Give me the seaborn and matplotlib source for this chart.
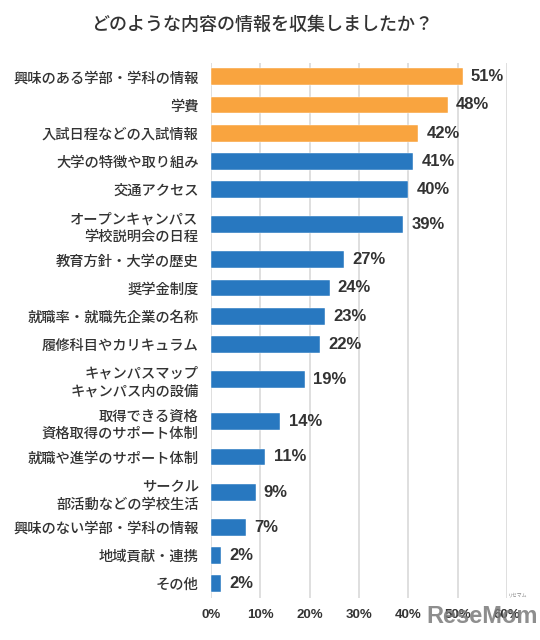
import numpy as np
import pandas as pd
import seaborn as sns
import matplotlib.pyplot as plt

# data
labels = ["興味のある学部・学科の情報", "学費", "入試日程などの入試情報",
          "大学の特徴や取り組み", "交通アクセス",
          "オープンキャンパス\n学校説明会の日程", "教育方針・大学の歴史",
          "奨学金制度", "就職率・就職先企業の名称", "履修科目やカリキュラム",
          "キャンパスマップ\nキャンパス内の設備", "取得できる資格\n資格取得のサポート体制",
          "就職や進学のサポート体制", "サークル\n部活動などの学校生活",
          "興味のない学部・学科の情報", "地域貢献・連携", "その他"]
values = [51, 48, 42, 41, 40, 39, 27, 24, 23, 22, 19, 14, 11, 9, 7, 2, 2]
groups = ["top"] * 3 + ["other"] * 14
xticks = [0, 10, 20, 30, 40, 50, 60]

sns.set_theme(style="white")
plt.rcParams['font.family'] = ['Noto Sans CJK JP', 'DejaVu Sans']

# two-line labels get a taller slot
slots = np.array([1.0 + 0.5 * lab.count("\n") for lab in labels])
ypos = np.cumsum(slots) - slots / 2

df = pd.DataFrame({"label": labels, "value": values, "group": groups, "y": ypos})

fig = plt.figure(figsize=(5.4, 6.4), dpi=100)
ax = fig.add_axes([0.391, 0.066, 0.548, 0.836])

for x in xticks:
    ax.axvline(x, color="#dcdcdc", lw=1.3, zorder=0)

sns.barplot(data=df, x="value", y="y", hue="group", orient="h", native_scale=True,
            palette={"top": "#f9a43f", "other": "#2878c0"}, saturation=1,
            dodge=False, width=0.6, legend=False, ax=ax, zorder=2,
            edgecolor="#ffffff", linewidth=0.3)

for c in ax.containers:
    ax.bar_label(c, labels=[f"{v:.0f}%" for v in c.datavalues], padding=6,
                 fontsize=12, fontweight="bold", color="#333333",
                 family=['Liberation Sans', 'DejaVu Sans'])

ax.set_xlim(0, 60)
ax.set_ylim(slots.sum(), 0)
ax.set_xticks(xticks)
ax.set_xticklabels([f"{x}%" for x in xticks], fontsize=9.5, fontweight="bold",
                   color="#333333", family=['Liberation Sans', 'DejaVu Sans'])
ax.set_yticks(ypos)
ax.set_yticklabels(labels, fontsize=10.3, color="#333333", linespacing=1.35,
                   fontweight="medium")
ax.tick_params(axis="both", length=0)
ax.tick_params(axis="y", pad=9)
ax.tick_params(axis="x", pad=8)
ax.set_xlabel("")
ax.set_ylabel("")
sns.despine(ax=ax, left=True, bottom=True)

fig.suptitle("どのような内容の情報を収集しましたか？", x=0.485, y=0.975,
             fontsize=13, color="#333333", fontweight="medium")

# watermark
fig.text(0.893, 0.037, "ReseMom", fontsize=17, fontweight="bold", color="#7a7a7a",
         alpha=0.85, ha="center", va="center", family=['Liberation Sans', 'DejaVu Sans'])
fig.text(0.958, 0.07, "リセマム", fontsize=3.5, color="#888888", ha="center", va="center")

fig.savefig("out.png", dpi=100)
